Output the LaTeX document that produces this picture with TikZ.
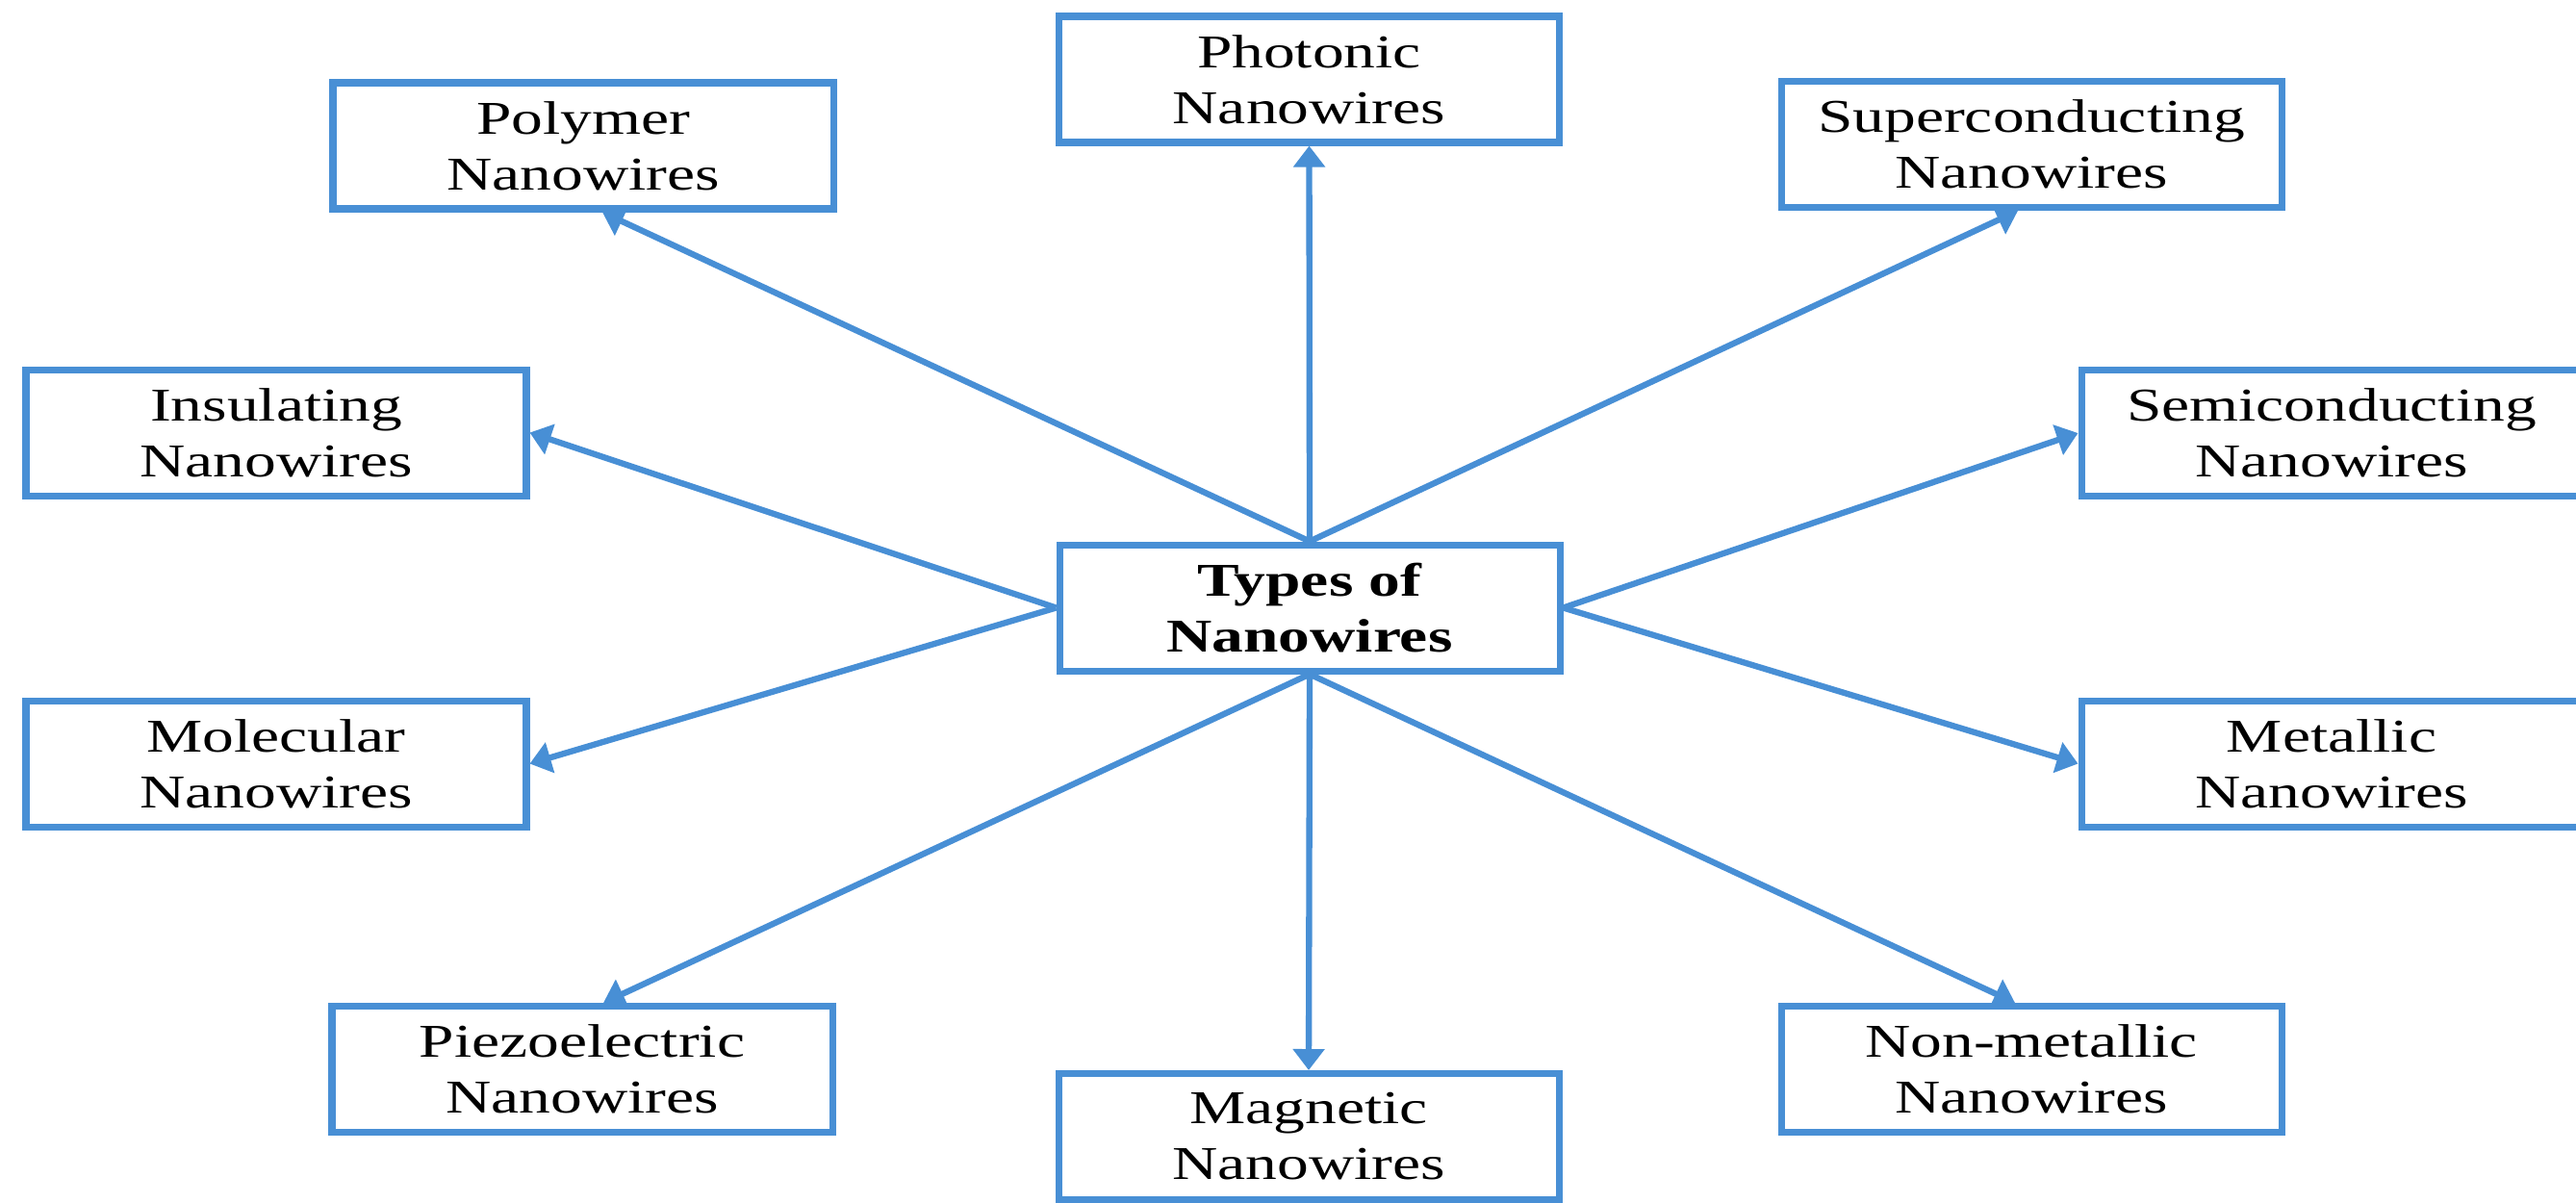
\documentclass[tikz,border=0pt]{standalone}
\usepackage{fontspec}
\setmainfont[FakeStretch=1.34]{Liberation Serif}
\usetikzlibrary{arrows.meta}
\definecolor{wireblue}{RGB}{72,143,213}

\begin{document}
\begin{tikzpicture}[x=1cm,y=1cm,
		box/.style={draw=wireblue,line width=2pt,fill=white,align=center,
			minimum width=5.2cm,minimum height=1.31cm,inner sep=0pt,
			font=\fontsize{13.9}{16.5}\selectfont},
		link/.style={draw=wireblue,line width=1.8pt,-{Triangle[length=0.22cm,width=0.32cm]}}]
		\clip (0,0) rectangle (26.77,-12.49);
		% centre
		\node[box] (ty) at (13.61,-6.315) {\textbf{Types of}\\\textbf{Nanowires}};
		% top row
		\node[box] (po) at (6.06,-1.515)  {Polymer\\Nanowires};
		\node[box] (ph) at (13.605,-0.825) {Photonic\\Nanowires};
		\node[box] (su) at (21.11,-1.50)  {Superconducting\\Nanowires};
		% sides
		\node[box] (ins) at (2.87,-4.495) {Insulating\\Nanowires};
		\node[box] (mo) at (2.87,-7.935)  {Molecular\\Nanowires};
		\node[box] (se) at (24.23,-4.50)  {Semiconducting\\Nanowires};
		\node[box] (me) at (24.23,-7.935) {Metallic\\Nanowires};
		% bottom row
		\node[box] (pz) at (6.05,-11.11)  {Piezoelectric\\Nanowires};
		\node[box] (mg) at (13.60,-11.81) {Magnetic\\Nanowires};
		\node[box] (nm) at (21.11,-11.11) {Non-metallic\\Nanowires};
		\draw[link] (ty.north) -- (ph.south);
		\draw[link] (ty.north) -- ([xshift=0.2cm]po.south);
		\draw[link] (ty.north) -- ([xshift=-0.14cm]su.south);
		\draw[link] (ty.west) -- (ins.east);
		\draw[link] (ty.west) -- (mo.east);
		\draw[link] (ty.east) -- (se.west);
		\draw[link] (ty.east) -- (me.west);
		\draw[link] (ty.south) -- ([xshift=0.22cm]pz.north);
		\draw[link] (ty.south) -- (mg.north);
		\draw[link] (ty.south) -- ([xshift=-0.17cm]nm.north);
	\end{tikzpicture}
\end{document}
